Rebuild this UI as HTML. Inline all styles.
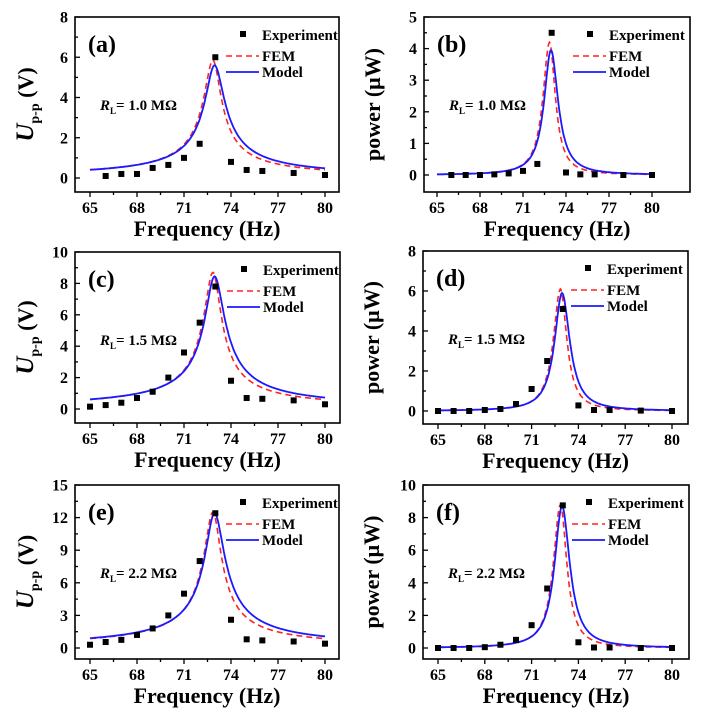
<!DOCTYPE html>
<html><head><meta charset="utf-8"><style>
html,body{margin:0;padding:0;background:#fff;}
svg{display:block;}
svg text{font-family:"Liberation Serif","Times New Roman",serif;font-weight:bold;}
</style></head><body>
<svg id="s" width="716" height="714" viewBox="0 0 716 714" xmlns="http://www.w3.org/2000/svg"></svg>
<script>
const S=document.getElementById('s');let h='';
const FF='font-family="Liberation Serif, serif" font-weight="bold"';
const panels=[
 {L:75,R:339,T:17,B:192,x65:90,x80:325,y0:178,ymax:8,ystep:2,yTop:17,lab:'(a)',rl:'1.0',pw:false,peak:5.6,fem:5.85,
  exp:[[66,.1],[67,.2],[68,.2],[69,.5],[70,.65],[71,1.0],[72,1.7],[73,6.0],[74,.8],[75,.4],[76,.35],[78,.25],[80,.15]]},
 {L:424,R:690,T:17,B:192,x65:437,x80:652,y0:175,ymax:5,ystep:1,yTop:17,lab:'(b)',rl:'1.0',pw:true,peak:3.95,fem:4.2,
  exp:[[66,0],[67,0],[68,0],[69,.02],[70,.05],[71,.13],[72,.35],[73,4.5],[74,.08],[75,.02],[76,.02],[78,0],[80,0]]},
 {L:75,R:340,T:252,B:423,x65:90,x80:325,y0:409,ymax:10,ystep:2,yTop:252,lab:'(c)',rl:'1.5',pw:false,peak:8.45,fem:8.7,
  exp:[[65,.15],[66,.25],[67,.4],[68,.7],[69,1.1],[70,2.0],[71,3.6],[72,5.5],[73,7.8],[74,1.8],[75,.7],[76,.65],[78,.55],[80,.3]]},
 {L:423,R:688,T:251,B:424,x65:438,x80:672,y0:411,ymax:8,ystep:2,yTop:251,lab:'(d)',rl:'1.5',pw:true,peak:5.9,fem:6.1,
  exp:[[65,0],[66,0],[67,0],[68,.05],[69,.1],[70,.35],[71,1.1],[72,2.5],[73,5.1],[74,.28],[75,.05],[76,.05],[78,.02],[80,0]]},
 {L:75,R:339,T:485,B:659,x65:90,x80:325,y0:648,ymax:15,ystep:3,yTop:485,lab:'(e)',rl:'2.2',pw:false,peak:12.4,fem:12.5,
  exp:[[65,.3],[66,.55],[67,.75],[68,1.2],[69,1.8],[70,3.0],[71,5.0],[72,8.0],[73,12.4],[74,2.6],[75,.8],[76,.7],[78,.6],[80,.4]]},
 {L:423,R:689,T:485,B:659,x65:438,x80:672,y0:648,ymax:10,ystep:2,yTop:485,lab:'(f)',rl:'2.2',pw:true,peak:8.7,fem:8.8,
  exp:[[65,0],[66,0],[67,0],[68,.05],[69,.2],[70,.5],[71,1.4],[72,3.65],[73,8.75],[74,.35],[75,.03],[76,.03],[78,0],[80,0]]}
];
panels.forEach(p=>{
 const X=f=>p.x65+(f-65)*(p.x80-p.x65)/15;
 const Y=v=>p.y0-v*(p.y0-p.yTop)/p.ymax;
 const curve=(f0,w,pk,dash,col,wd)=>{
  let d='';
  for(let f=65;f<=80.001;f+=0.05){
   let wr=f>f0?w*(dash?0.9:1.05):w;
   let r=1/Math.sqrt(1+Math.pow((f-f0)/wr,2));
   let v=p.pw?pk*r*r:pk*r;
   d+=(d?'L':'M')+X(f).toFixed(1)+' '+Y(v).toFixed(1);
  }
  h+=`<path d="${d}" fill="none" stroke="${col}" stroke-width="${wd}" ${dash?'stroke-dasharray="6,4"':''}/>`;
 };
 curve(72.85,0.55,p.fem,true,'#f22',1.6);
 curve(72.95,0.58,p.peak,false,'#1a1aff',1.8);
 p.exp.forEach(e=>{h+=`<rect x="${X(e[0])-3}" y="${Y(e[1])-3}" width="6" height="6" fill="#000"/>`;});
 h+=`<rect x="${p.L}" y="${p.T}" width="${p.R-p.L}" height="${p.B-p.T}" fill="none" stroke="#000" stroke-width="1.6"/>`;
 for(let f=65;f<=80;f+=1.5){
  const maj=Math.abs((f-65)%3)<0.01;
  h+=`<line x1="${X(f)}" y1="${p.B}" x2="${X(f)}" y2="${p.B+(maj?5:3)}" stroke="#000" stroke-width="1.3"/>`;
  if(maj)h+=`<text ${FF} x="${X(f)}" y="${p.B+21}" font-size="16" text-anchor="middle">${f}</text>`;
 }
 for(let v=0;v<=p.ymax+0.001;v+=p.ystep/2){
  const maj=Math.abs((v/p.ystep)-Math.round(v/p.ystep))<0.01;
  h+=`<line x1="${p.L}" y1="${Y(v)}" x2="${p.L+(maj?5:3)}" y2="${Y(v)}" stroke="#000" stroke-width="1.3"/>`;
  if(maj)h+=`<text ${FF} x="${p.L-7}" y="${Y(v)+5.5}" font-size="16" text-anchor="end">${v}</text>`;
 }
 const cx=(p.L+p.R)/2, cy=(p.T+p.B)/2;
 h+=`<text ${FF} x="${cx}" y="${p.B+44}" font-size="22" text-anchor="middle">Frequency (Hz)</text>`;
 if(p.pw) h+=`<text ${FF} transform="translate(${p.L-44},${cy}) rotate(-90)" font-size="22" text-anchor="middle">power (μW)</text>`;
 else h+=`<text ${FF} transform="translate(${p.L-42},${cy}) rotate(-90)" font-size="22" text-anchor="middle"><tspan font-style="italic" font-size="25">U</tspan><tspan font-size="14" dy="6">p-p</tspan><tspan dy="-6"> (V)</tspan></text>`;
 h+=`<text ${FF} x="${p.L+13}" y="${p.T+35}" font-size="24">${p.lab}</text>`;
 h+=`<text ${FF} x="${p.L+25}" y="${p.T+93}" font-size="15"><tspan font-style="italic">R</tspan><tspan font-size="9" dy="4">L</tspan><tspan dy="-4">= ${p.rl} MΩ</tspan></text>`;
 const lx=p.R-(p.pw?117:113);
 h+=`<rect x="${lx+14}" y="${p.T+14}" width="6" height="6" fill="#000"/>`;
 h+=`<text ${FF} x="${lx+36}" y="${p.T+23}" font-size="15">Experiment</text>`;
 h+=`<line x1="${lx}" y1="${p.T+39}" x2="${lx+33}" y2="${p.T+39}" stroke="#f22" stroke-width="1.6" stroke-dasharray="6,4"/>`;
 h+=`<text ${FF} x="${lx+36}" y="${p.T+44}" font-size="15">FEM</text>`;
 h+=`<line x1="${lx}" y1="${p.T+55}" x2="${lx+33}" y2="${p.T+55}" stroke="#1a1aff" stroke-width="1.8"/>`;
 h+=`<text ${FF} x="${lx+36}" y="${p.T+60}" font-size="15">Model</text>`;
});
S.innerHTML=h;
</script>
</body></html>
